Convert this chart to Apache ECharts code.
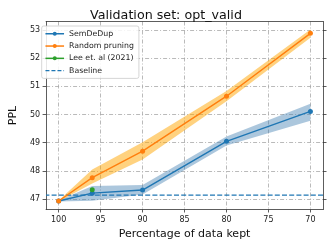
<!DOCTYPE html>
<html>
<head>
<meta charset="utf-8">
<script src="https://cdn.jsdelivr.net/npm/echarts@6/dist/echarts.min.js"></script>
<style>html,body{margin:0;padding:0;background:#fff;}#c{width:332px;height:245px;}</style>
</head>
<body>
<div id="c"></div>
<script>
const kept = [100, 96, 90, 80, 70];
const semMean = [46.93, 47.21, 47.32, 49.05, 50.11];
const semLow  = [46.91, 46.94, 47.16, 48.90, 49.78];
const semHigh = [46.95, 47.46, 47.50, 49.22, 50.38];
const rndMean = [46.93, 47.76, 48.70, 50.65, 52.88];
const rndLow  = [46.91, 47.55, 48.40, 50.47, 52.72];
const rndHigh = [46.95, 48.05, 49.02, 50.83, 53.02];
const leeKept = [96];
const leeMean = [47.33];
const baseline = 47.14;
const xTicks = [100, 95, 90, 85, 80, 75, 70];
const yTicks = [47, 48, 49, 50, 51, 52, 53];

const font = 'DejaVu Sans';
const chart = echarts.init(document.getElementById('c'), null, {renderer: 'canvas'});

function band(low, high, color) {
  return {
    type: 'custom',
    silent: true,
    z: 1,
    data: [0],
    renderItem: function (params, api) {
      const pts = [];
      for (let i = 0; i < kept.length; i++) pts.push(api.coord([kept[i], high[i]]));
      for (let i = kept.length - 1; i >= 0; i--) pts.push(api.coord([kept[i], low[i]]));
      return {type: 'polygon', shape: {points: pts}, style: {fill: color, stroke: null}};
    }
  };
}

const gridDash = {color: '#a8a8a8', width: 0.8, type: [4, 2, 1, 2]};
const spine = {color: '#333', width: 0.8};

chart.setOption({
  animation: false,
  textStyle: {fontFamily: font},
  title: {
    text: 'Validation set: opt_valid', left: 'center', top: 4,
    textStyle: {fontFamily: font, fontSize: 12.7, fontWeight: 'normal', color: '#111'}
  },
  legend: {
    orient: 'vertical', left: 41.7, top: 26,
    itemWidth: 18.6, itemHeight: 5, itemGap: 2.8, padding: [3, 5, 3, 3],
    backgroundColor: 'rgba(255,255,255,0.85)', borderColor: '#cccccc', borderWidth: 0.8, borderRadius: 2,
    textStyle: {fontFamily: font, fontSize: 7.8, lineHeight: 9.5, color: '#222'},
    lineStyle: {width: 1.5},
    itemStyle: {borderWidth: 0},
    data: [
      'SemDeDup', 'Random pruning', 'Lee et. al (2021)',
      {name: 'Baseline', itemStyle: {opacity: 0}, lineStyle: {type: [4, 2], width: 1.3}}
    ]
  },
  grid: {left: 37, right: 9, top: 21.5, bottom: 35.5},
  xAxis: [{
    type: 'value', inverse: true, min: 68.5, max: 101.5, splitNumber: 6,
    name: 'Percentage of data kept', nameLocation: 'middle', nameGap: 16.5,
    nameTextStyle: {fontFamily: font, fontSize: 11, color: '#111'},
    axisLine: {show: true, lineStyle: spine},
    axisTick: {show: true, length: 3, lineStyle: spine, customValues: xTicks},
    axisLabel: {fontFamily: font, fontSize: 8, color: '#222', margin: 6, customValues: xTicks},
    splitLine: {show: true, lineStyle: gridDash}
  }, {
    type: 'value', inverse: true, min: 68.5, max: 101.5, position: 'top',
    axisLine: {show: true, lineStyle: spine},
    axisTick: {show: false}, axisLabel: {show: false}, splitLine: {show: false}
  }],
  yAxis: [{
    type: 'value', min: 46.63, max: 53.30,
    name: 'PPL', nameLocation: 'middle', nameGap: 22,
    nameTextStyle: {fontFamily: font, fontSize: 11, color: '#111'},
    axisLine: {show: true, lineStyle: spine},
    axisTick: {show: true, length: 3.5, lineStyle: spine, customValues: yTicks},
    axisLabel: {fontFamily: font, fontSize: 8, color: '#222', margin: 6, customValues: yTicks},
    splitLine: {show: true, lineStyle: gridDash}
  }, {
    type: 'value', min: 46.63, max: 53.30, position: 'right',
    axisLine: {show: true, lineStyle: spine},
    axisTick: {show: true, length: 3.5, lineStyle: spine, customValues: yTicks},
    axisLabel: {show: false}, splitLine: {show: false}
  }],
  series: [
    band(semLow, semHigh, 'rgba(70,130,180,0.45)'),
    band(rndLow, rndHigh, 'rgba(255,165,0,0.5)'),
    {
      name: 'SemDeDup', type: 'line', z: 3,
      data: kept.map((k, i) => [k, semMean[i]]),
      symbol: 'circle', symbolSize: 5,
      lineStyle: {color: '#1f77b4', width: 1.4}, itemStyle: {color: '#1f77b4'}
    },
    {
      name: 'Random pruning', type: 'line', z: 3,
      data: kept.map((k, i) => [k, rndMean[i]]),
      symbol: 'circle', symbolSize: 5,
      lineStyle: {color: '#ff7f0e', width: 1.4}, itemStyle: {color: '#ff7f0e'}
    },
    {
      name: 'Lee et. al (2021)', type: 'line', z: 4,
      data: leeKept.map((k, i) => [k, leeMean[i]]),
      symbol: 'circle', symbolSize: 5,
      lineStyle: {color: '#2ca02c', width: 1.4}, itemStyle: {color: '#2ca02c'}
    },
    {
      name: 'Baseline', type: 'line', z: 2,
      data: [[68.5, baseline], [101.5, baseline]],
      symbol: 'none',
      lineStyle: {color: '#1f77b4', width: 1.3, type: [5, 2.2]}, itemStyle: {color: '#1f77b4'}
    }
  ]
});
</script>
</body>
</html>
